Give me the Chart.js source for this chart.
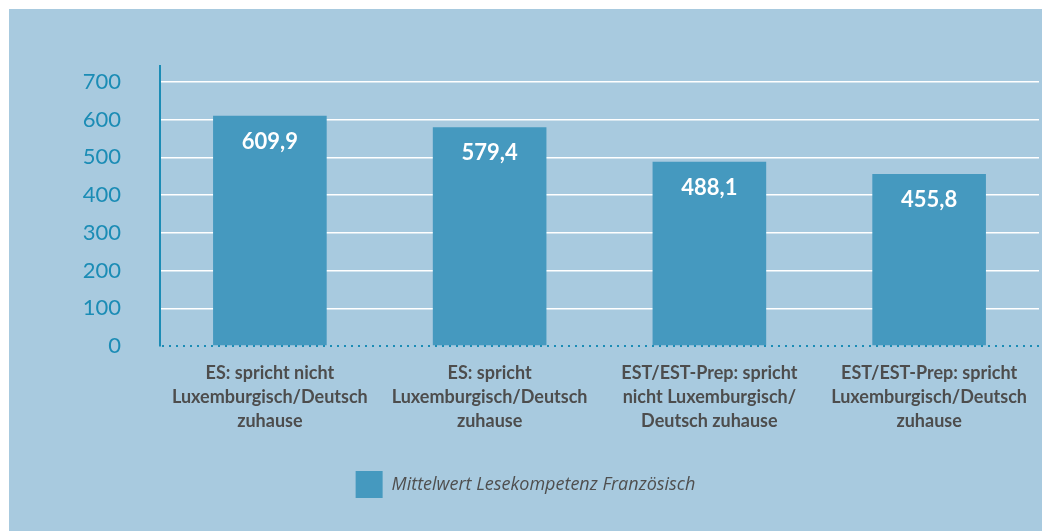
<!DOCTYPE html>
<html>
<head>
<meta charset="utf-8">
<script src="https://cdn.jsdelivr.net/npm/chart.js@4.4.0/dist/chart.umd.min.js"></script>
<style>
  html, body { margin: 0; padding: 0; background: #ffffff; }
  #box {
    position: absolute; left: 9px; top: 9px;
    width: 1033px; height: 522px;
    background: #a8cadf;
  }
</style>
</head>
<body>
<div id="box"><canvas id="lesenChart"></canvas></div>
<script>
// categories (mehrzeilig)
const categories = [
    ['ES: spricht nicht', 'Luxemburgisch/Deutsch', 'zuhause'],
    ['ES: spricht', 'Luxemburgisch/Deutsch', 'zuhause'],
    ['EST/EST-Prep: spricht', 'nicht Luxemburgisch/', 'Deutsch zuhause'],
    ['EST/EST-Prep: spricht', 'Luxemburgisch/Deutsch', 'zuhause']
];
const mittelwerte = [609.9, 579.4, 488.1, 455.8];
const yTicks = [0, 100, 200, 300, 400, 500, 600, 700];
const seriesLabel = 'Mittelwert Lesekompetenz Französisch';

const teal = '#1b8cb5';
const barColor = '#4599bf';

// valeurs dans les barres
const barValues = {
    id: 'barValues',
    afterDatasetsDraw(chart) {
        const ctx = chart.ctx;
        const meta = chart.getDatasetMeta(0);
        ctx.save();
        ctx.fillStyle = '#ffffff';
        ctx.font = 'bold 22px Lato';
        ctx.textAlign = 'center';
        ctx.textBaseline = 'middle';
        meta.data.forEach((bar, i) => {
            const txt = mittelwerte[i].toFixed(1).replace('.', ',');
            ctx.fillText(txt, bar.x, bar.y + 26);
        });
        ctx.restore();
    }
};

// ligne pointillée en bas (axe x)
const dottedBase = {
    id: 'dottedBase',
    afterDatasetsDraw(chart) {
        const { ctx, chartArea } = chart;
        ctx.save();
        ctx.strokeStyle = teal;
        ctx.lineWidth = 2;
        ctx.setLineDash([2, 5]);
        ctx.beginPath();
        ctx.moveTo(chartArea.left + 2, chartArea.bottom);
        ctx.lineTo(chartArea.right, chartArea.bottom);
        ctx.stroke();
        ctx.restore();
    }
};

const ctx = document.getElementById('lesenChart').getContext('2d');
const lesenChart = new Chart(ctx, {
    type: 'bar',
    data: {
        labels: categories,
        datasets: [{
            label: seriesLabel,
            data: mittelwerte,
            backgroundColor: barColor,
            borderWidth: 0,
            barPercentage: 0.517,
            categoryPercentage: 1
        }]
    },
    options: {
        responsive: true,
        maintainAspectRatio: false,
        animation: false,
        layout: { padding: { left: 0, right: 0, top: 57, bottom: 23 } },
        scales: {
            x: {
                grid: { display: false, drawTicks: false },
                border: { display: false },
                ticks: {
                    color: '#4d4d4d',
                    padding: 15,
                    maxRotation: 0,
                    autoSkip: false,
                    font: { family: 'Lato', size: 18, weight: 'bold', lineHeight: '24px' }
                },
                afterFit(scale) { scale.height = 115; }
            },
            y: {
                min: 0,
                max: 742,
                afterBuildTicks(scale) {
                    scale.ticks = yTicks.map(v => ({ value: v }));
                },
                grid: {
                    drawTicks: false,
                    color: ctx => ctx.tick && ctx.tick.value > 0 ? '#ffffff' : 'rgba(0,0,0,0)',
                    lineWidth: 1.5
                },
                border: { display: true, color: teal, width: 2 },
                ticks: {
                    color: teal,
                    padding: 39,
                    font: { family: 'Lato', size: 22 }
                },
                afterFit(scale) { scale.width = 151; }
            }
        },
        plugins: {
            legend: {
                display: true,
                position: 'bottom',
                labels: {
                    color: '#4f4f4f',
                    boxWidth: 27,
                    boxHeight: 27,
                    padding: 10,
                    font: { family: 'Open Sans', size: 18, style: 'italic' }
                }
            },
            tooltip: { enabled: false }
        }
    },
    plugins: [barValues, dottedBase]
});
</script>
</body>
</html>
